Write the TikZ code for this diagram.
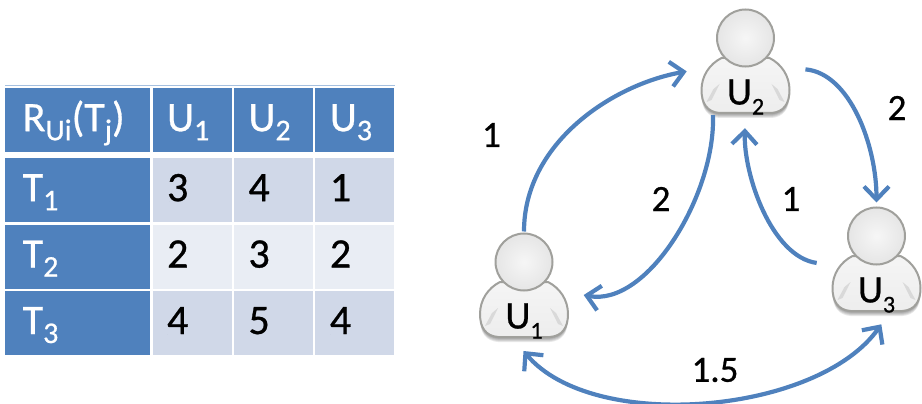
\documentclass[tikz,border=0pt]{standalone}
\usepackage{fontspec}
\setmainfont[FakeBold=0.7]{Carlito}
\usepackage{xcolor}
\usetikzlibrary{arrows.meta, positioning, calc}

\definecolor{tableblue}{HTML}{4F81BD}
\definecolor{banddark}{HTML}{D0D8E8}
\definecolor{bandlight}{HTML}{E9EDF4}
\definecolor{stripeblue}{HTML}{A5C0E0}
\definecolor{arrowblue}{HTML}{4F81BD}
\definecolor{iconrim}{HTML}{A0A09C}

\newcommand{\lowidx}[1]{\raisebox{-9pt}{\fontsize{30}{30}\selectfont #1}}
\newcommand{\smallidx}[1]{\raisebox{-10pt}{\fontsize{24}{24}\selectfont #1}}
\newcommand{\bodyoutline}{(-24,20) .. controls (-36,26) and (-44,38) .. (-44,52) .. controls (-44,66) and (-38,74) .. (-26,75) -- (26,75) .. controls (38,74) and (44,66) .. (44,52) .. controls (44,38) and (36,26) .. (24,20) -- cycle}

\tikzset{
	pics/userfig/.style={code={
		\foreach \s in {1,...,5}
			\fill[black, opacity=0.09] [yshift=-\s pt] \bodyoutline;
		\draw[iconrim, line width=2pt, top color=white!92!gray, bottom color=gray!14] \bodyoutline;
		\fill[gray!30] (-34,62) -- (-26,46) -- (-32,51) -- (-39,64) -- cycle;
		\fill[gray!30] (34,62) -- (26,46) -- (32,51) -- (39,64) -- cycle;
		\node[headcircle] (head) at (0,0) {};
		\node[boxarea] (box) at (0,23) {};
		\node[userlabel] (label) at (0,59) {U\smallidx{#1}};
	}}
}

\begin{document}
\begin{tikzpicture}[
	x=1pt, y=-1pt,
	node distance=2pt,
	every node/.style={font=\fontsize{42}{42}\selectfont},
	cellbase/.style={rectangle, anchor=north west, inner ysep=0pt, inner xsep=14.5pt, text height=43pt, text depth=21pt, align=left},
	headcell/.style={cellbase, fill=tableblue, text=white, text width=50pt},
	leftcell/.style={headcell, inner xsep=17.5pt, text width=110pt},
	darkcell/.style={cellbase, fill=banddark, text=black, text width=50pt},
	lightcell/.style={cellbase, fill=bandlight, text=black, text width=50pt},
	stripe/.style={stripeblue, line width=1.5pt},
	headcircle/.style={circle, draw=iconrim, line width=2pt, inner sep=0pt, minimum size=57pt, inner color=gray!7, outer color=gray!20},
	boxarea/.style={rectangle, inner sep=0pt, minimum width=87.6pt, minimum height=104pt},
	userlabel/.style={inner sep=0pt, font=\fontsize{39}{39}\selectfont, text=black},
	link/.style={arrowblue, line width=4.2pt, -{Straight Barb[length=13pt, width=25pt, line width=4.2pt]}},
	twolink/.style={link, {Straight Barb[length=13pt, width=25pt, line width=4.2pt]}-{Straight Barb[length=13pt, width=25pt, line width=4.2pt]}},
	weight/.style={inner sep=0pt, font=\fontsize{37}{37}\selectfont}
	]
	\useasboundingbox (0,0) rectangle (922,404);

	% table
	\node[leftcell] (corner) at (5,88) {R\lowidx{Ui}(T\lowidx{j})};
	\node[headcell, right=of corner.north east, anchor=north west] (colU1) {U\lowidx{1}};
	\node[headcell, right=of colU1.north east, anchor=north west] (colU2) {U\lowidx{2}};
	\node[headcell, right=of colU2.north east, anchor=north west] (colU3) {U\lowidx{3}};

	\node[leftcell] (rowT1) at (5,158) {T\lowidx{1}};
	\node[darkcell, right=of rowT1.north east, anchor=north west] (c11) {3};
	\node[darkcell, right=of c11.north east, anchor=north west] (c12) {4};
	\node[darkcell, right=of c12.north east, anchor=north west] (c13) {1};

	\node[leftcell, below=of rowT1.south west, anchor=north west] (rowT2) {T\lowidx{2}};
	\node[lightcell, right=of rowT2.north east, anchor=north west] (c21) {2};
	\node[lightcell, right=of c21.north east, anchor=north west] (c22) {3};
	\node[lightcell, right=of c22.north east, anchor=north west] (c23) {2};

	\node[leftcell, below=of rowT2.south west, anchor=north west] (rowT3) {T\lowidx{3}};
	\node[darkcell, right=of rowT3.north east, anchor=north west] (c31) {4};
	\node[darkcell, right=of c31.north east, anchor=north west] (c32) {5};
	\node[darkcell, right=of c32.north east, anchor=north west] (c33) {4};

	\draw[stripe] ($(corner.north west)+(0,-2.5)$) -- ($(colU3.north east)+(0,-2.5)$);

	% users
	\pic (u1) at (524,262) {userfig=1};
	\pic (u2) at (745.5,38) {userfig=2};
	\pic (u3) at (876.5,236) {userfig=3};

	\draw[link, shorten <=1pt, shorten >=15pt] (u1head.north) to[out=90, in=190, looseness=0.95] (u2box.190);
	\draw[link, shorten <=2pt, shorten >=16pt] (u2box.238) to[out=-88, in=-11, looseness=0.9] (u1box.-9);
	\draw[link, shorten <=16pt, shorten >=4pt] (u2box.-9) to[out=-5, in=90, looseness=0.95] (u3head.north);
	\draw[link, shorten <=16pt, shorten >=15pt] (u3box.188) to[out=172, in=-92, looseness=0.9] (u2box.south);
	\draw[twolink, shorten <=18pt, shorten >=16pt] (u1box.-103) to[out=-50, in=-125, looseness=0.85] (u3box.-75);

	\node[weight] (w12) at (491.5,135) {1};
	\node[weight] (w23) at (897,108) {2};
	\node[weight] (w21) at (661,199) {2};
	\node[weight] (w32) at (791,199) {1};
	\node[weight] (w13) at (715,370) {1.5};
\end{tikzpicture}
\end{document}
